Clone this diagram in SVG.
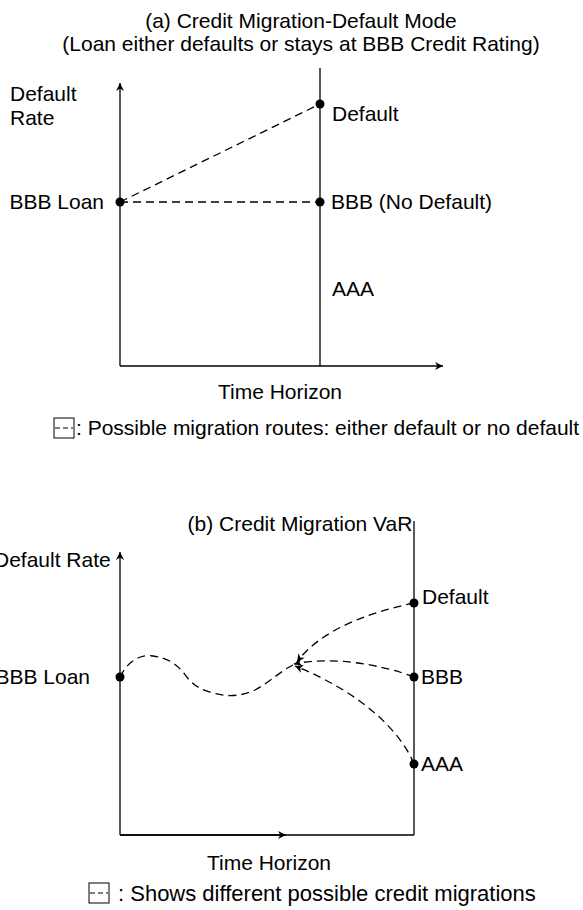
<svg xmlns="http://www.w3.org/2000/svg" width="583" height="910" viewBox="0 0 583 910">
<style>
text{font-family:"Liberation Sans",Arial,sans-serif;font-size:21px;fill:#000}
.ax{stroke:#000;stroke-width:1.3;fill:none}
.dash{stroke:#000;stroke-width:1.3;fill:none;stroke-dasharray:8,5}
.dot{fill:#000}
.leg{fill:none;stroke:#000;stroke-width:1}
</style>
<defs>
<marker id="ah" viewBox="0 0 10 10" refX="10" refY="5" markerWidth="11" markerHeight="8" markerUnits="userSpaceOnUse" orient="auto"><path d="M0,0 L10,5 L0,10 L3,5 Z" fill="#000"/></marker>
</defs>
<g id="panelA">
<text x="301" y="28" text-anchor="middle">(a) Credit Migration-Default Mode</text>
<text x="301" y="51" text-anchor="middle">(Loan either defaults or stays at BBB Credit Rating)</text>
<g id="axesA">
<line class="ax" x1="120" y1="366" x2="120" y2="83" marker-end="url(#ah)"/>
<line class="ax" x1="120" y1="366" x2="443" y2="366" marker-end="url(#ah)"/>
<line class="ax" x1="320" y1="68" x2="320" y2="366"/>
</g>
<text x="10" y="101">Default</text>
<text x="10" y="125">Rate</text>
<text x="280" y="399" text-anchor="middle">Time Horizon</text>
<g id="connA"><line class="dash" x1="120" y1="202" x2="320" y2="104"/><line class="dash" x1="120" y1="202" x2="320" y2="202"/></g>
<g id="a-loan"><circle class="dot" cx="120" cy="202" r="4.5"/><text x="104" y="209" text-anchor="end">BBB Loan</text></g>
<g id="a-default"><circle class="dot" cx="320" cy="104" r="4.5"/><text x="332" y="121">Default</text></g>
<g id="a-bbb"><circle class="dot" cx="320" cy="202" r="4.5"/><text x="331" y="209">BBB (No Default)</text></g>
<g id="a-aaa"><text x="332" y="296">AAA</text></g>
<g id="legendA"><rect class="leg" x="54" y="418" width="20" height="20"/><line class="leg" x1="55" y1="428" x2="73" y2="428" stroke-dasharray="5,3"/><text x="76" y="435">: Possible migration routes: either default or no default</text></g>
</g>
<g id="panelB">
<text x="300" y="531" text-anchor="middle">(b) Credit Migration VaR</text>
<g id="axesB">
<line class="ax" x1="120" y1="835" x2="120" y2="552" marker-end="url(#ah)"/>
<line class="ax" x1="120" y1="835" x2="414" y2="835"/>
<line class="ax" x1="120" y1="835" x2="286" y2="835" marker-end="url(#ah)"/>
<line class="ax" x1="414" y1="521" x2="414" y2="835"/>
</g>
<text x="-6" y="567">Default Rate</text>
<text x="269" y="870" text-anchor="middle">Time Horizon</text>
<g id="connB">
<path class="dash" d="M120,677 C128,661 140,654 153,656 C168,658 176,664 183,672 C190,682 196,688 210,692 C225,697 240,697 255,690 C270,682 282,670 293,665"/>
<path class="dash" d="M414,603 C370,612 320,630 297,662" marker-end="url(#ah)"/>
<path class="dash" d="M414,677 C380,664 330,656 294,664" marker-end="url(#ah)"/>
<path class="dash" d="M414,764 C400,730 360,692 295,666" marker-end="url(#ah)"/>
</g>
<g id="b-loan"><circle class="dot" cx="120" cy="677" r="4.5"/><text x="90" y="684" text-anchor="end">BBB Loan</text></g>
<g id="b-default"><circle class="dot" cx="414" cy="603" r="4.5"/><text x="422" y="604">Default</text></g>
<g id="b-bbb"><circle class="dot" cx="414" cy="677" r="4.5"/><text x="421" y="684">BBB</text></g>
<g id="b-aaa"><circle class="dot" cx="414" cy="764" r="4.5"/><text x="421" y="771">AAA</text></g>
<g id="legendB"><rect class="leg" x="89" y="883" width="20" height="20"/><line class="leg" x1="90" y1="893" x2="108" y2="893" stroke-dasharray="5,3"/><text x="118" y="901" style="font-size:22px">: Shows different possible credit migrations</text></g>
</g>
</svg>
